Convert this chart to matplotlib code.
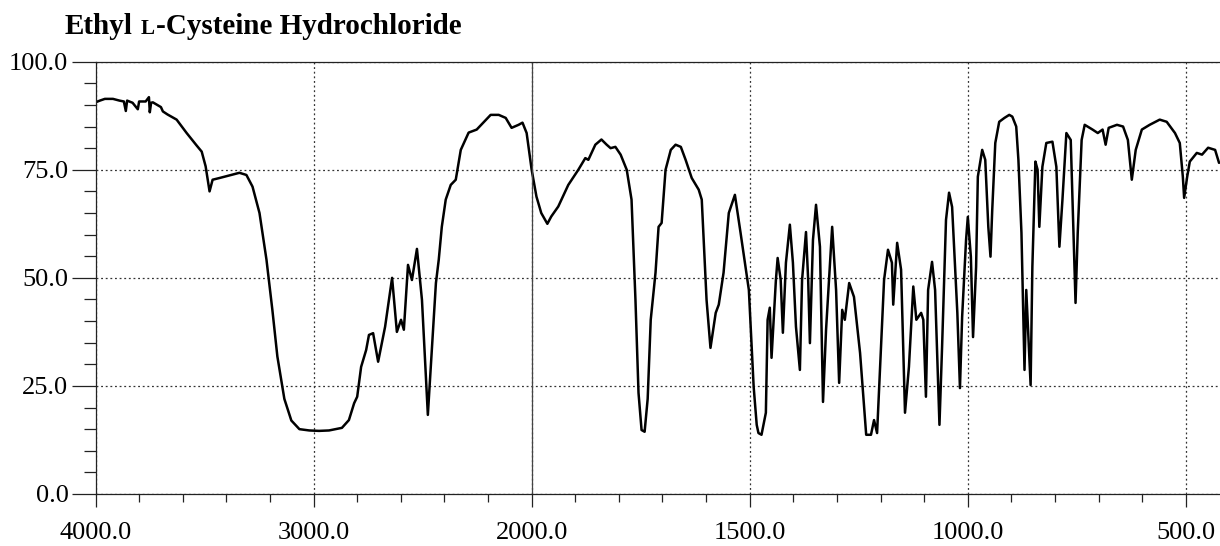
import numpy as np
import matplotlib
matplotlib.use("Agg")
import matplotlib.pyplot as plt
from matplotlib.ticker import FixedLocator, FormatStrFormatter

# IR spectrum (wavenumber in cm-1, %T)
wavenumber = [
    4000, 3980, 3957, 3920, 3890, 3870, 3861, 3855, 3830, 3806, 3800, 3770, 3755, 3751,
    3745, 3737, 3700, 3691, 3670, 3628, 3582, 3536, 3513, 3495, 3477, 3463, 3431, 3340,
    3308, 3280, 3248, 3216, 3189, 3166, 3134, 3102, 3065, 3020, 2975, 2929, 2870, 2838,
    2814, 2800, 2782, 2759, 2746, 2727, 2704, 2672, 2640, 2618, 2599, 2586, 2567, 2549,
    2526, 2503, 2476, 2439, 2426, 2412, 2394, 2371, 2348, 2325, 2289, 2252, 2220, 2188,
    2151, 2119, 2092, 2060, 2042, 2023, 2000, 1989, 1978, 1964, 1955, 1939, 1916, 1893,
    1877, 1870, 1854, 1840, 1828, 1819, 1808, 1796, 1782, 1771, 1762, 1755, 1748, 1741,
    1734, 1727, 1716, 1709, 1702, 1693, 1681, 1670, 1658, 1647, 1633, 1617, 1610, 1599,
    1590, 1578, 1571, 1560, 1548, 1534, 1521, 1502, 1491, 1484, 1480, 1473, 1463, 1459,
    1454, 1450, 1440, 1436, 1429, 1424, 1417, 1408, 1401, 1394, 1385, 1380, 1371, 1366,
    1362, 1355, 1348, 1339, 1332, 1325, 1311, 1302, 1295, 1288, 1282, 1272, 1261, 1247,
    1233, 1222, 1215, 1208, 1199, 1192, 1183, 1174, 1171, 1162, 1153, 1144, 1135, 1125,
    1118, 1107, 1102, 1096, 1091, 1082, 1075, 1065, 1059, 1050, 1043, 1036, 1024, 1018,
    1013, 1004, 1000, 993, 988, 981, 977, 967, 960, 953, 948, 944, 937, 928,
    916, 905, 898, 889, 884, 877, 870, 866, 856, 852, 845, 840, 836, 829,
    820, 806, 797, 790, 783, 774, 764, 760, 753, 748, 739, 732, 714, 702,
    691, 684, 677, 658, 644, 633, 624, 615, 601, 583, 560, 544, 525, 514,
    507, 504, 497, 491, 475, 463, 449, 433, 424,
]
transmittance = [
    90.6, 91.0, 91.4, 91.4, 91.0, 90.8, 88.6, 91.0, 90.5, 89.0, 90.8, 90.8, 91.8, 88.3,
    90.5, 90.6, 89.5, 88.5, 87.8, 86.6, 83.5, 80.6, 79.2, 75.8, 70.0, 72.7, 73.1, 74.3,
    73.8, 71.1, 65.0, 54.2, 42.6, 31.8, 22.0, 17.0, 15.0, 14.7, 14.6, 14.7, 15.3, 17.1,
    21.0, 22.5, 29.4, 33.3, 36.8, 37.2, 30.6, 38.7, 50.0, 37.5, 40.3, 38.0, 53.0, 49.5,
    56.7, 44.9, 18.3, 48.8, 54.2, 61.8, 68.1, 71.5, 72.7, 79.6, 83.6, 84.3, 86.0, 87.7,
    87.7, 87.0, 84.7, 85.4, 85.9, 83.5, 75.0, 68.8, 65.0, 62.5, 64.2, 66.5, 71.5, 75.0,
    77.7, 77.3, 80.8, 82.0, 80.8, 80.0, 80.3, 78.5, 75.0, 68.1, 44.9, 23.4, 14.8, 14.4,
    22.0, 40.3, 51.2, 61.8, 62.7, 75.0, 79.6, 80.8, 80.3, 77.3, 73.1, 70.4, 68.1, 44.9,
    33.8, 41.9, 43.8, 51.2, 65.0, 69.2, 60.4, 47.2, 24.8, 16.0, 14.1, 13.7, 18.8, 40.3,
    43.1, 31.5, 49.5, 54.6, 49.5, 37.3, 53.5, 62.3, 53.5, 38.7, 28.7, 49.5, 60.6, 49.5,
    34.9, 58.8, 66.9, 57.2, 21.3, 38.0, 61.8, 47.2, 25.7, 42.6, 40.3, 48.8, 45.6, 32.6,
    13.7, 13.7, 17.1, 14.1, 34.0, 49.5, 56.5, 53.5, 43.8, 58.1, 51.9, 18.8, 29.4, 48.0,
    40.3, 41.9, 40.3, 22.5, 47.2, 53.7, 47.2, 16.0, 34.0, 63.4, 69.7, 66.4, 41.9, 24.5,
    41.0, 58.8, 64.1, 54.9, 36.3, 52.5, 73.4, 79.6, 77.3, 61.8, 54.9, 65.7, 81.2, 86.1,
    87.0, 87.7, 87.3, 85.0, 77.3, 60.4, 28.7, 47.2, 25.2, 52.5, 76.9, 75.0, 61.8, 75.7,
    81.2, 81.5, 75.7, 57.2, 68.1, 83.5, 81.9, 68.1, 44.2, 60.4, 81.9, 85.4, 84.3, 83.5,
    84.3, 80.8, 84.7, 85.4, 85.0, 81.9, 72.7, 79.6, 84.3, 85.4, 86.6, 86.1, 83.5, 81.2,
    73.4, 68.5, 73.4, 76.9, 78.9, 78.5, 80.1, 79.6, 76.6,
]

x_major = [4000, 3000, 2000, 1500, 1000, 500]
x_minor = list(range(3800, 2000, -200)) + list(range(1900, 400, -100))
y_major = [0, 25, 50, 75, 100]
y_minor = list(range(0, 101, 5))

title_parts = ["Ethyl", "L", "-Cysteine Hydrochloride"]


# above 2000 cm-1 the axis is compressed by a factor of two
def fwd(w):
    w = np.asarray(w, dtype=float)
    return np.where(w > 2000, 1000 + w / 2.0, w)


def inv(u):
    u = np.asarray(u, dtype=float)
    return np.where(u > 2000, 2.0 * (u - 1000), u)


W, H = 1220, 546
fig = plt.figure(figsize=(W / 100, H / 100), dpi=100)
ax = fig.add_axes([95.5 / W, 52 / H, (1229.5 - 95.5) / W, 432.3 / H])
ax.set_xscale("function", functions=(fwd, inv))

ax.plot(wavenumber, transmittance, color="black", lw=1.8,
        solid_joinstyle="round", solid_capstyle="round")

ax.set_xlim(4000, 400)
ax.set_ylim(0, 100)

ax.xaxis.set_major_locator(FixedLocator(x_major))
ax.xaxis.set_minor_locator(FixedLocator(x_minor))
ax.yaxis.set_major_locator(FixedLocator(y_major))
ax.yaxis.set_minor_locator(FixedLocator(y_minor))
ax.xaxis.set_major_formatter(FormatStrFormatter("%.1f"))
ax.yaxis.set_major_formatter(FormatStrFormatter("%.1f"))

font = "Liberation Serif"
for lab in ax.get_xticklabels() + ax.get_yticklabels():
    lab.set_fontfamily(font)
    lab.set_fontsize(19)

ax.tick_params(axis="x", which="major", direction="out", length=9, width=0.9, pad=11, color="#222")
ax.tick_params(axis="x", which="minor", direction="out", length=5.5, width=0.9, color="#222")
ax.tick_params(axis="y", which="major", direction="out", length=17, width=0.9, pad=2.5, color="#222")
ax.tick_params(axis="y", which="minor", direction="out", length=8.6, width=0.9, color="#222")

ax.grid(True, which="major", color="#333", lw=0.9, ls=(0, (1.5, 2.2)))
ax.axvline(2000, color="#444", lw=0.9)

for side in ["left", "bottom", "top"]:
    ax.spines[side].set_linewidth(0.9)
    ax.spines[side].set_color("#222")
ax.spines["right"].set_visible(False)

# title with small-caps L
r = fig.canvas.get_renderer()
fs = 21
base = 1 - 33.5 / H
t1 = fig.text(65 / W, base, title_parts[0], fontsize=fs, fontweight="bold",
              family=font, va="baseline")
x1 = t1.get_window_extent(r).x1
t2 = fig.text((x1 + 8) / W, base, title_parts[1], fontsize=fs * 0.72,
              fontweight="bold", family=font, va="baseline")
x2 = t2.get_window_extent(r).x1
fig.text((x2 + 1) / W, base, title_parts[2], fontsize=fs, fontweight="bold",
         family=font, va="baseline")

fig.savefig("out.png", dpi=100)
